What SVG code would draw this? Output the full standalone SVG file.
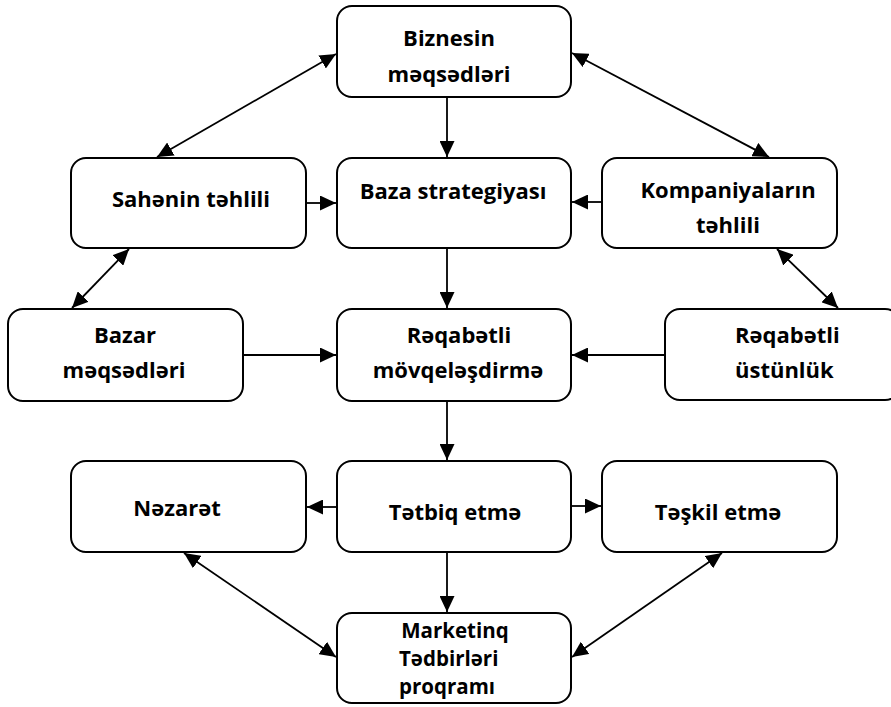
<svg xmlns="http://www.w3.org/2000/svg" width="891" height="707" viewBox="0 0 891 707">
<style>
.box{fill:#fff;stroke:#000;stroke-width:2}
.t{font-family:"Open Sans","Liberation Sans",sans-serif;font-weight:700;font-size:22px;fill:#000;text-anchor:middle}
.s{font-size:20.5px}
.l{text-anchor:start}
.c{fill:none;stroke:#000;stroke-width:1.8}
</style>
<defs>
<marker id="a" markerUnits="userSpaceOnUse" markerWidth="16" markerHeight="15" refX="16" refY="7.5" orient="auto-start-reverse">
<path d="M0,0 L16,7.5 L0,15 z" fill="#000"/>
</marker>
</defs>
<rect width="891" height="707" fill="#fff"/>
<g id="connectors">
<line class="c" x1="447" y1="98" x2="447" y2="157" marker-end="url(#a)"/>
<line class="c" x1="157" y1="157" x2="336" y2="54" marker-start="url(#a)" marker-end="url(#a)"/>
<line class="c" x1="572" y1="53" x2="769" y2="157" marker-start="url(#a)" marker-end="url(#a)"/>
<line class="c" x1="307" y1="203" x2="336" y2="203" marker-end="url(#a)"/>
<line class="c" x1="601" y1="202" x2="572" y2="202" marker-end="url(#a)"/>
<line class="c" x1="447" y1="249" x2="447" y2="308" marker-end="url(#a)"/>
<line class="c" x1="129" y1="249" x2="72" y2="308" marker-start="url(#a)" marker-end="url(#a)"/>
<line class="c" x1="777" y1="249" x2="838" y2="308" marker-start="url(#a)" marker-end="url(#a)"/>
<line class="c" x1="244" y1="355" x2="336" y2="355" marker-end="url(#a)"/>
<line class="c" x1="664" y1="355" x2="572" y2="355" marker-end="url(#a)"/>
<line class="c" x1="447" y1="402" x2="447" y2="460" marker-end="url(#a)"/>
<line class="c" x1="336" y1="507" x2="307" y2="507" marker-end="url(#a)"/>
<line class="c" x1="572" y1="506" x2="601" y2="506" marker-end="url(#a)"/>
<line class="c" x1="447" y1="553" x2="447" y2="612" marker-end="url(#a)"/>
<line class="c" x1="184" y1="553" x2="336" y2="657" marker-start="url(#a)" marker-end="url(#a)"/>
<line class="c" x1="722" y1="553" x2="572" y2="657" marker-start="url(#a)" marker-end="url(#a)"/>
</g>
<g id="biznesin">
<rect class="box" x="337" y="6" width="234" height="91" rx="15"/>
<text class="t" x="449" y="46">Biznesin</text>
<text class="t" x="449" y="82">məqsədləri</text>
</g>
<g id="sahenin">
<rect class="box" x="71" y="158" width="235" height="90" rx="15"/>
<text class="t" x="191" y="207">Sahənin təhlili</text>
</g>
<g id="baza">
<rect class="box" x="337" y="158" width="234" height="90" rx="15"/>
<text class="t" x="453" y="199">Baza strategiyası</text>
</g>
<g id="kompaniyalar">
<rect class="box" x="602" y="158" width="235" height="90" rx="15"/>
<text class="t" x="728" y="198">Kompaniyaların</text>
<text class="t" x="728" y="233">təhlili</text>
</g>
<g id="bazar">
<rect class="box" x="8" y="309" width="235" height="92" rx="15"/>
<text class="t" x="125" y="343">Bazar</text>
<text class="t" x="124" y="378">məqsədləri</text>
</g>
<g id="movqe">
<rect class="box" x="337" y="309" width="234" height="92" rx="15"/>
<text class="t" x="459" y="343">Rəqabətli</text>
<text class="t" x="458" y="378">mövqeləşdirmə</text>
</g>
<g id="ustunluk">
<rect class="box" x="665" y="309" width="235" height="91" rx="15"/>
<text class="t l" x="735" y="343">Rəqabətli</text>
<text class="t l" x="735" y="378">üstünlük</text>
</g>
<g id="nezaret">
<rect class="box" x="71" y="461" width="235" height="91" rx="15"/>
<text class="t" x="177" y="516">Nəzarət</text>
</g>
<g id="tetbiq">
<rect class="box" x="337" y="461" width="234" height="91" rx="15"/>
<text class="t" x="455" y="520">Tətbiq etmə</text>
</g>
<g id="teskil">
<rect class="box" x="602" y="461" width="235" height="91" rx="15"/>
<text class="t" x="718" y="520">Təşkil etmə</text>
</g>
<g id="marketinq">
<rect class="box" x="337" y="613" width="234" height="90" rx="15"/>
<text class="t s" x="455" y="638">Marketinq</text>
<text class="t s l" x="399" y="666">Tədbirləri</text>
<text class="t s l" x="399" y="694">proqramı</text>
</g>
</svg>
